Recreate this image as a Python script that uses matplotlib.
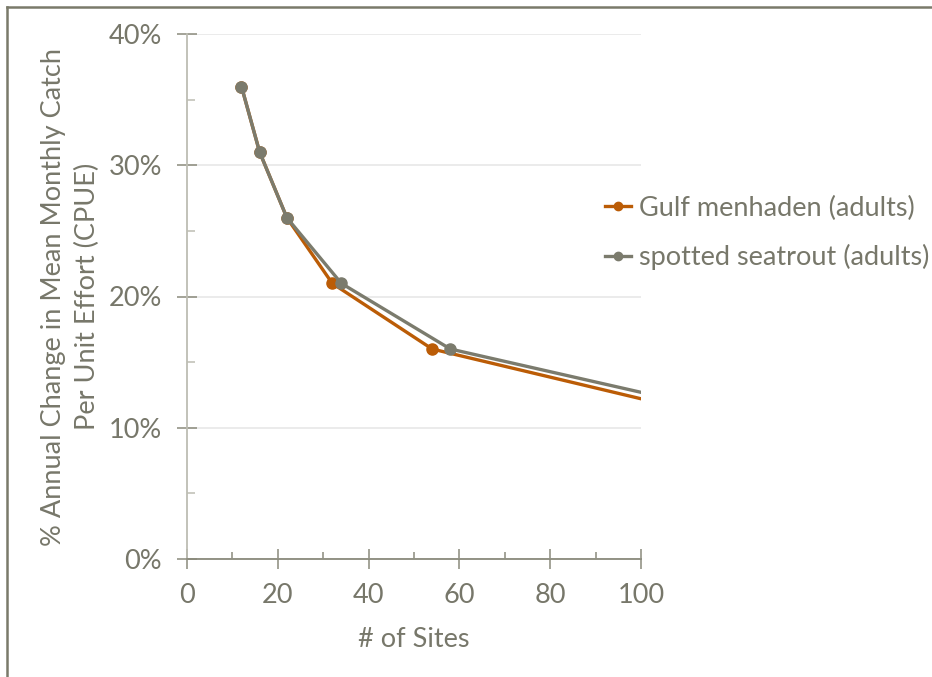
import matplotlib
matplotlib.use("Agg")
import matplotlib.pyplot as plt
from matplotlib.lines import Line2D
from matplotlib.ticker import MultipleLocator, FuncFormatter

# Survey effort vs. detectable annual change in CPUE
menhaden_sites = [12, 16, 22, 32, 54, 128]
menhaden_change = [36, 31, 26, 21, 16, 9.9]
seatrout_sites = [12, 16, 22, 34, 58, 128]
seatrout_change = [36, 31, 26, 21, 16, 10.5]
series_labels = ["Gulf menhaden (adults)", "spotted seatrout (adults)"]
x_ticks = [0, 20, 40, 60, 80, 100]
y_ticks = [0, 10, 20, 30, 40]

text_color = "#77776a"
orange = "#bb5c06"
grey = "#7b7b6d"

plt.rcParams["font.family"] = ["Lato", "DejaVu Sans"]

fig = plt.figure(figsize=(9.32, 6.77), dpi=100)
W, H = 932, 677
ax = fig.add_axes([187 / W, 1 - 559 / H, 454 / W, 525 / H])

ax.plot(menhaden_sites, menhaden_change, color=orange, lw=2.4, marker="o",
        ms=8, label=series_labels[0], clip_on=True, zorder=3)
ax.plot(seatrout_sites, seatrout_change, color=grey, lw=2.4, marker="o",
        ms=8, label=series_labels[1], clip_on=True, zorder=4)

ax.set_xlim(0, 100)
ax.set_ylim(0, 40)
ax.set_xticks(x_ticks)
ax.set_yticks(y_ticks)
ax.xaxis.set_minor_locator(MultipleLocator(10))
ax.yaxis.set_minor_locator(MultipleLocator(5))
ax.yaxis.set_major_formatter(FuncFormatter(lambda v, p: f"{v:.0f}%"))

for s in ["top", "right"]:
    ax.spines[s].set_visible(False)
ax.spines["left"].set_color("#bdbdb3")
ax.spines["left"].set_linewidth(1.3)
ax.spines["bottom"].set_color("#8a8a7c")
ax.spines["bottom"].set_linewidth(1.3)

ax.tick_params(axis="y", which="major", direction="inout", length=14,
               width=1.1, color="#8a8a7c", labelsize=19.5, labelcolor=text_color, pad=11)
ax.tick_params(axis="y", which="minor", direction="in", length=6,
               width=1.1, color="#bdbdb3")
ax.tick_params(axis="x", which="major", direction="inout", length=14,
               width=1.1, color="#8a8a7c", labelsize=19.5, labelcolor=text_color, pad=10)
ax.tick_params(axis="x", which="minor", direction="in", length=5,
               width=1.1, color="#8a8a7c")

ax.grid(axis="y", which="major", color="#e8e8e8", lw=1.2, zorder=0)
ax.set_axisbelow(True)

ax.set_xlabel("# of Sites", fontsize=19.5, color=text_color, labelpad=14)
ax.set_ylabel("% Annual Change in Mean Monthly Catch\nPer Unit Effort (CPUE)",
              fontsize=19.5, color=text_color, labelpad=6, linespacing=1.45)

leg = fig.legend(loc="upper left", bbox_to_anchor=(594 / W, 1 - 185 / H),
                 frameon=False, fontsize=19.5, handlelength=0.95, handletextpad=0.3,
                 labelspacing=0.85, numpoints=1, labelcolor=text_color,
                 borderaxespad=0, borderpad=0.4)
for h in leg.legend_handles:
    h.set_markersize(6)

# frame edge along the top and left of the figure
fig.add_artist(Line2D([6.5 / W, 6.5 / W], [0, 1 - 6.5 / H], color="#7a7a6a", lw=1.8))
fig.add_artist(Line2D([6.5 / W, 1], [1 - 6.5 / H, 1 - 6.5 / H], color="#7a7a6a", lw=1.8))

fig.savefig("out.png", dpi=100, facecolor="white")
